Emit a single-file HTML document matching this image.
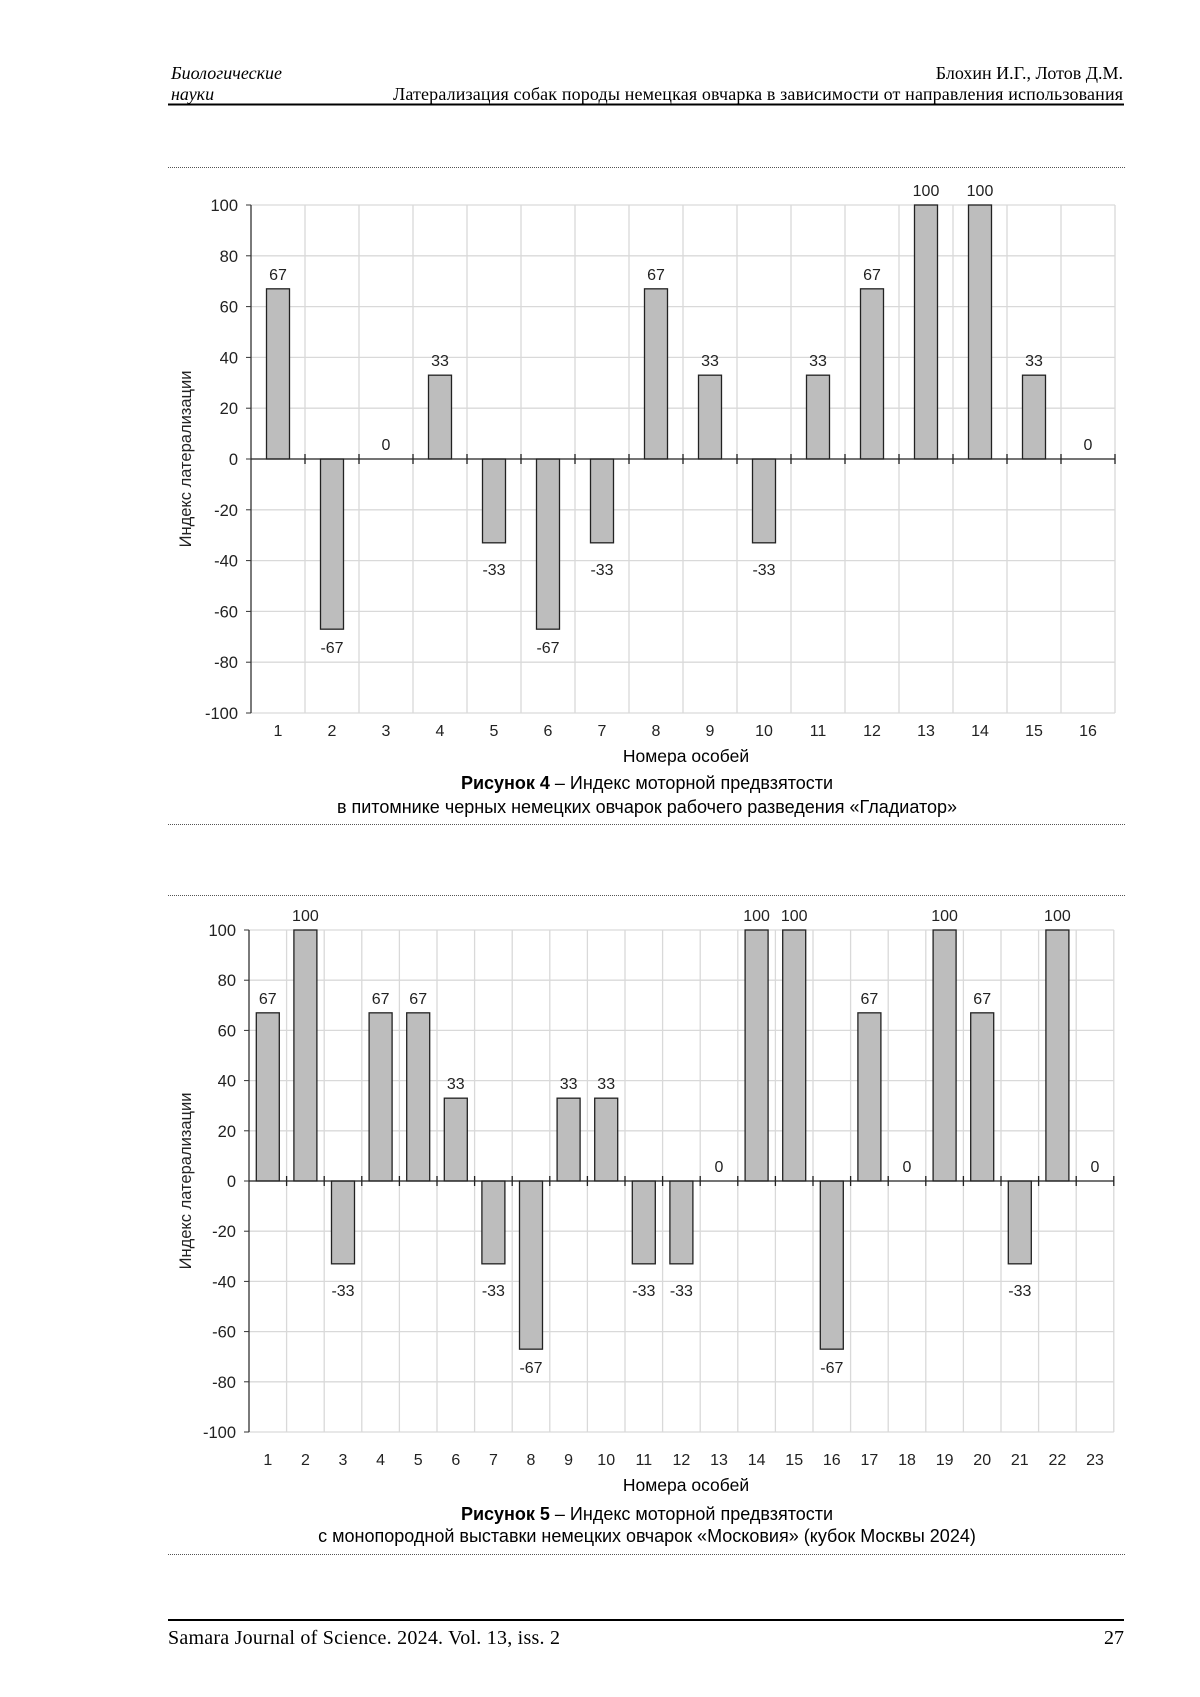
<!DOCTYPE html>
<html><head><meta charset="utf-8"><style>
body{margin:0;background:#fff}
svg{display:block}
</style></head><body>
<svg id="s" width="1200" height="1697" xmlns="http://www.w3.org/2000/svg">
<g font-family="Liberation Serif, serif" font-size="18" fill="#000">
<text x="171" y="79" font-style="italic">Биологические</text>
<text x="171" y="100" font-style="italic">науки</text>
<text x="1123" y="79" text-anchor="end">Блохин И.Г., Лотов Д.М.</text>
<text x="1123" y="100" text-anchor="end" textLength="730">Латерализация собак породы немецкая овчарка в зависимости от направления использования</text>
<text x="168" y="1644" font-size="20" textLength="392">Samara Journal of Science. 2024. Vol. 13, iss. 2</text>
<text x="1124" y="1644" font-size="20" text-anchor="end">27</text>
</g>
<line x1="168" y1="104.5" x2="1124" y2="104.5" stroke="#000" stroke-width="2"/>
<line x1="168" y1="1620" x2="1124" y2="1620" stroke="#000" stroke-width="2"/>
<g stroke="#555" stroke-width="1" stroke-dasharray="1,1">
<line x1="168" y1="167.5" x2="1125" y2="167.5"/>
<line x1="168" y1="824.5" x2="1125" y2="824.5"/>
<line x1="168" y1="895.5" x2="1125" y2="895.5"/>
<line x1="168" y1="1554.5" x2="1125" y2="1554.5"/>
</g>
<g id="c1"></g><g id="c2"></g>
<g font-family="Liberation Sans, sans-serif" font-size="18" text-anchor="middle" fill="#000">
<text x="686" y="762" font-size="17.5">Номера особей</text>
<text x="647" y="789"><tspan font-weight="bold">Рисунок 4</tspan> – Индекс моторной предвзятости</text>
<text x="647" y="813">в питомнике черных немецких овчарок рабочего разведения «Гладиатор»</text>
<text x="686" y="1491" font-size="17.5">Номера особей</text>
<text x="647" y="1520"><tspan font-weight="bold">Рисунок 5</tspan> – Индекс моторной предвзятости</text>
<text x="647" y="1542">с монопородной выставки немецких овчарок «Московия» (кубок Москвы 2024)</text>
</g>
</svg>
<script>
function chart(id,data,x0,step,y100,y0,bw,ylab,titleX,labY){
 var g=document.getElementById(id),h='';var ppu=(y0-y100)/100;var n=data.length;var xr=x0+n*step;
 function Y(v){return y0-v*ppu;}
 for(var v=-100;v<=100;v+=20){var y=Y(v);
  if(v!=0)h+='<line x1="'+x0+'" y1="'+y+'" x2="'+xr+'" y2="'+y+'" stroke="#d9d9d9" stroke-width="1.3"/>';
  h+='<line x1="'+(x0-5)+'" y1="'+y+'" x2="'+x0+'" y2="'+y+'" stroke="#333"/>';
  h+='<text x="'+(x0-13)+'" y="'+(y+6)+'" font-family="Liberation Sans, sans-serif" font-size="16.5" text-anchor="end" fill="#222">'+v+'</text>';}
 for(var i=1;i<=n;i++){var x=x0+i*step;h+='<line x1="'+x+'" y1="'+Y(100)+'" x2="'+x+'" y2="'+Y(-100)+'" stroke="#d9d9d9" stroke-width="1.3"/>';}
 for(var i=0;i<n;i++){var v=data[i],cx=x0+step*(i+0.5);
  if(v!=0){var yt=Math.min(Y(v),y0),hh=Math.abs(v)*ppu;
   h+='<rect x="'+(cx-bw/2)+'" y="'+yt+'" width="'+bw+'" height="'+hh+'" fill="#bdbdbd" stroke="#222" stroke-width="1.3"/>';}
  var ly=v>=0?Y(v)-9:(v==-33?Y(v)+32:Y(v)+24);
  h+='<text x="'+cx+'" y="'+ly+'" font-family="Liberation Sans, sans-serif" font-size="16" text-anchor="middle" fill="#222">'+v+'</text>';
  h+='<text x="'+cx+'" y="'+labY+'" font-family="Liberation Sans, sans-serif" font-size="16" text-anchor="middle" fill="#222">'+(i+1)+'</text>';}
 h+='<line x1="'+x0+'" y1="'+Y(100)+'" x2="'+x0+'" y2="'+Y(-100)+'" stroke="#333" stroke-width="1.3"/>';
 h+='<line x1="'+x0+'" y1="'+y0+'" x2="'+xr+'" y2="'+y0+'" stroke="#222" stroke-width="1.3"/>';
 for(var i=1;i<=n;i++){var x=x0+i*step;h+='<line x1="'+x+'" y1="'+(y0-5)+'" x2="'+x+'" y2="'+(y0+5)+'" stroke="#222" stroke-width="1.3"/>';}
 var cy=(Y(100)+Y(-100))/2;
 h+='<text transform="translate('+titleX+','+cy+') rotate(-90)" font-family="Liberation Sans, sans-serif" font-size="16.5" text-anchor="middle" fill="#222">Индекс латерализации</text>';
 g.innerHTML=h;
}
chart('c1',[67,-67,0,33,-33,-67,-33,67,33,-33,33,67,100,100,33,0],251,54,205,459,23,0,191,736);
chart('c2',[67,100,-33,67,67,33,-33,-67,33,33,-33,-33,0,100,100,-67,67,0,100,67,-33,100,0],249,37.6,930,1181,23,0,191,1465);
</script>
</body></html>
